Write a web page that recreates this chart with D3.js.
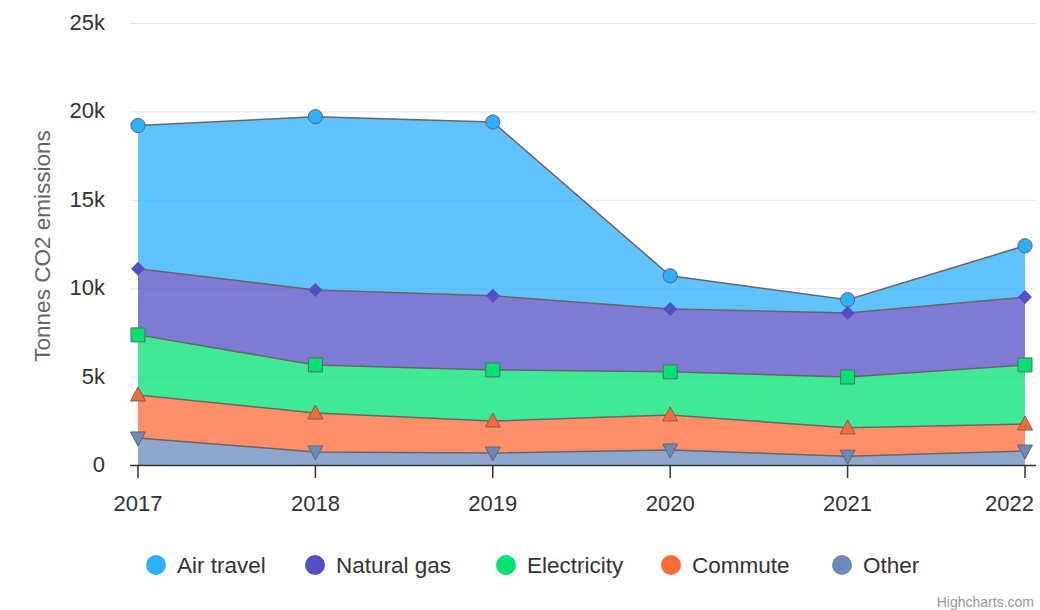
<!DOCTYPE html>
<html>
<head>
<meta charset="utf-8">
<script src="https://cdn.jsdelivr.net/npm/d3@7/dist/d3.min.js"></script>
<style>
  body { margin: 0; background: #fff; }
  text { font-family: "Liberation Sans", Arial, sans-serif; }
</style>
</head>
<body>
<script>
// data (tonnes, stacked)
var years = [2017, 2018, 2019, 2020, 2021, 2022];
var seriesNames = ["Air travel", "Natural gas", "Electricity", "Commute", "Other"];
var airTravel  = [8100, 9800, 9830, 1870, 750, 2900];
var naturalGas = [3740, 4240, 4190, 3560, 3620, 3840];
var electricity = [3400, 2720, 2890, 2440, 2880, 3340];
var commute    = [2430, 2200, 1810, 1980, 1600, 1530];
var other      = [1530, 740, 680, 850, 500, 790];
var yTicks = [0, 5000, 10000, 15000, 20000, 25000];
var yTickLabels = ["0", "5k", "10k", "15k", "20k", "25k"];

var CH = {};
CH.colors = ["#2caffe", "#544fc5", "#00e272", "#fe6a35", "#6b8abc"];
CH.symbols = ["circle", "diamond", "square", "up", "down"];
CH.values = [airTravel, naturalGas, electricity, commute, other];

CH.svg = d3.select("body").append("svg")
    .attr("width", 1040)
    .attr("height", 610);

CH.left = 130; CH.right = 1036;
CH.x = d3.scaleLinear().domain([2017, 2022]).range([138, 1025]);
CH.y = d3.scaleLinear().domain([0, 25000]).range([465, 23]);

// table for d3.stack, bottom series first
CH.rows = years.map(function(yr, i) {
    var r = { year: yr };
    seriesNames.forEach(function(n, k) { r[n] = CH.values[k][i]; });
    return r;
});
CH.stack = d3.stack().keys(seriesNames.slice().reverse())(CH.rows);

// gridlines
CH.svg.append("g").selectAll("line")
    .data(yTicks.slice(1))
    .enter().append("line")
    .attr("x1", CH.left).attr("x2", CH.right)
    .attr("y1", function(d) { return CH.y(d) + 0.5; })
    .attr("y2", function(d) { return CH.y(d) + 0.5; })
    .style("stroke", "#e6e6e6");

// y labels
CH.svg.append("g").selectAll("text")
    .data(yTicks)
    .enter().append("text")
    .attr("x", 105)
    .attr("y", function(d) { return CH.y(d) + 7; })
    .attr("text-anchor", "end")
    .attr("font-size", "22px")
    .style("fill", "#333")
    .text(function(d, i) { return yTickLabels[i]; });

CH.svg.append("text")
    .attr("transform", "translate(50,246) rotate(-90)")
    .attr("text-anchor", "middle")
    .attr("font-size", "22.5px")
    .style("fill", "#666")
    .text("Tonnes CO2 emissions");

// areas
CH.area = d3.area()
    .x(function(d) { return CH.x(d.data.year); })
    .y0(function(d) { return CH.y(d[0]); })
    .y1(function(d) { return CH.y(d[1]); });
CH.line = d3.line()
    .x(function(d) { return CH.x(d.data.year); })
    .y(function(d) { return CH.y(d[1]); });

CH.layers = CH.stack.slice().reverse();   // top series first
CH.svg.append("g").selectAll("path")
    .data(CH.stack)
    .enter().append("path")
    .attr("d", CH.area)
    .style("fill", function(d) { return CH.colors[seriesNames.indexOf(d.key)]; })
    .style("fill-opacity", 0.75);
CH.svg.append("g").selectAll("path")
    .data(CH.stack)
    .enter().append("path")
    .attr("d", CH.line)
    .style("fill", "none")
    .style("stroke", "#666")
    .style("stroke-width", 1.5);

// x axis
CH.svg.append("line")
    .attr("x1", CH.left).attr("x2", CH.right)
    .attr("y1", 465.5).attr("y2", 465.5)
    .style("stroke", "#333").style("stroke-width", 1.5);
CH.svg.append("g").selectAll("line")
    .data(years)
    .enter().append("line")
    .attr("x1", function(d) { return CH.x(d); })
    .attr("x2", function(d) { return CH.x(d); })
    .attr("y1", 465).attr("y2", 478)
    .style("stroke", "#333").style("stroke-width", 1.5);
CH.svg.append("g").selectAll("text")
    .data(years)
    .enter().append("text")
    .attr("x", function(d, i) { return i == years.length - 1 ? 1034 : CH.x(d); })
    .attr("y", 511)
    .attr("text-anchor", function(d, i) { return i == years.length - 1 ? "end" : "middle"; })
    .attr("font-size", "22px")
    .style("fill", "#333")
    .text(function(d) { return d; });

// markers
CH.sym = function(kind) {
    if (kind === "circle") return d3.symbol().type(d3.symbolCircle).size(160)();
    if (kind === "square") return "M-7,-7H7V7H-7Z";
    if (kind === "diamond") return "M0,-7L7,0L0,7L-7,0Z";
    if (kind === "up") return "M0,-8L7.5,6H-7.5Z";
    return "M0,8L7.5,-6H-7.5Z";
};
CH.layers.forEach(function(layer) {
    var k = seriesNames.indexOf(layer.key);
    CH.svg.append("g").selectAll("path")
        .data(layer)
        .enter().append("path")
        .attr("d", CH.sym(CH.symbols[k]))
        .attr("transform", function(d) {
            return "translate(" + CH.x(d.data.year) + "," + CH.y(d[1]) + ")";
        })
        .style("fill", CH.colors[k])
        .style("stroke", CH.symbols[k] === "diamond" ? "none" : "#666")
        .style("stroke-width", 1);
});

// legend
CH.legX = [156, 315, 506, 671, 842];
CH.leg = CH.svg.append("g").selectAll("g")
    .data(seriesNames)
    .enter().append("g")
    .attr("transform", function(d, i) { return "translate(" + CH.legX[i] + ",565)"; });
CH.leg.append("circle")
    .attr("r", 10)
    .style("fill", function(d, i) { return CH.colors[i]; });
CH.leg.append("text")
    .attr("x", 21)
    .attr("y", 8)
    .attr("font-size", "22.5px")
    .style("fill", "#333")
    .text(function(d) { return d; });

CH.svg.append("text")
    .attr("x", 1034).attr("y", 607)
    .attr("text-anchor", "end")
    .attr("font-size", "14px")
    .style("fill", "#999")
    .text("Highcharts.com");
</script>
</body>
</html>
